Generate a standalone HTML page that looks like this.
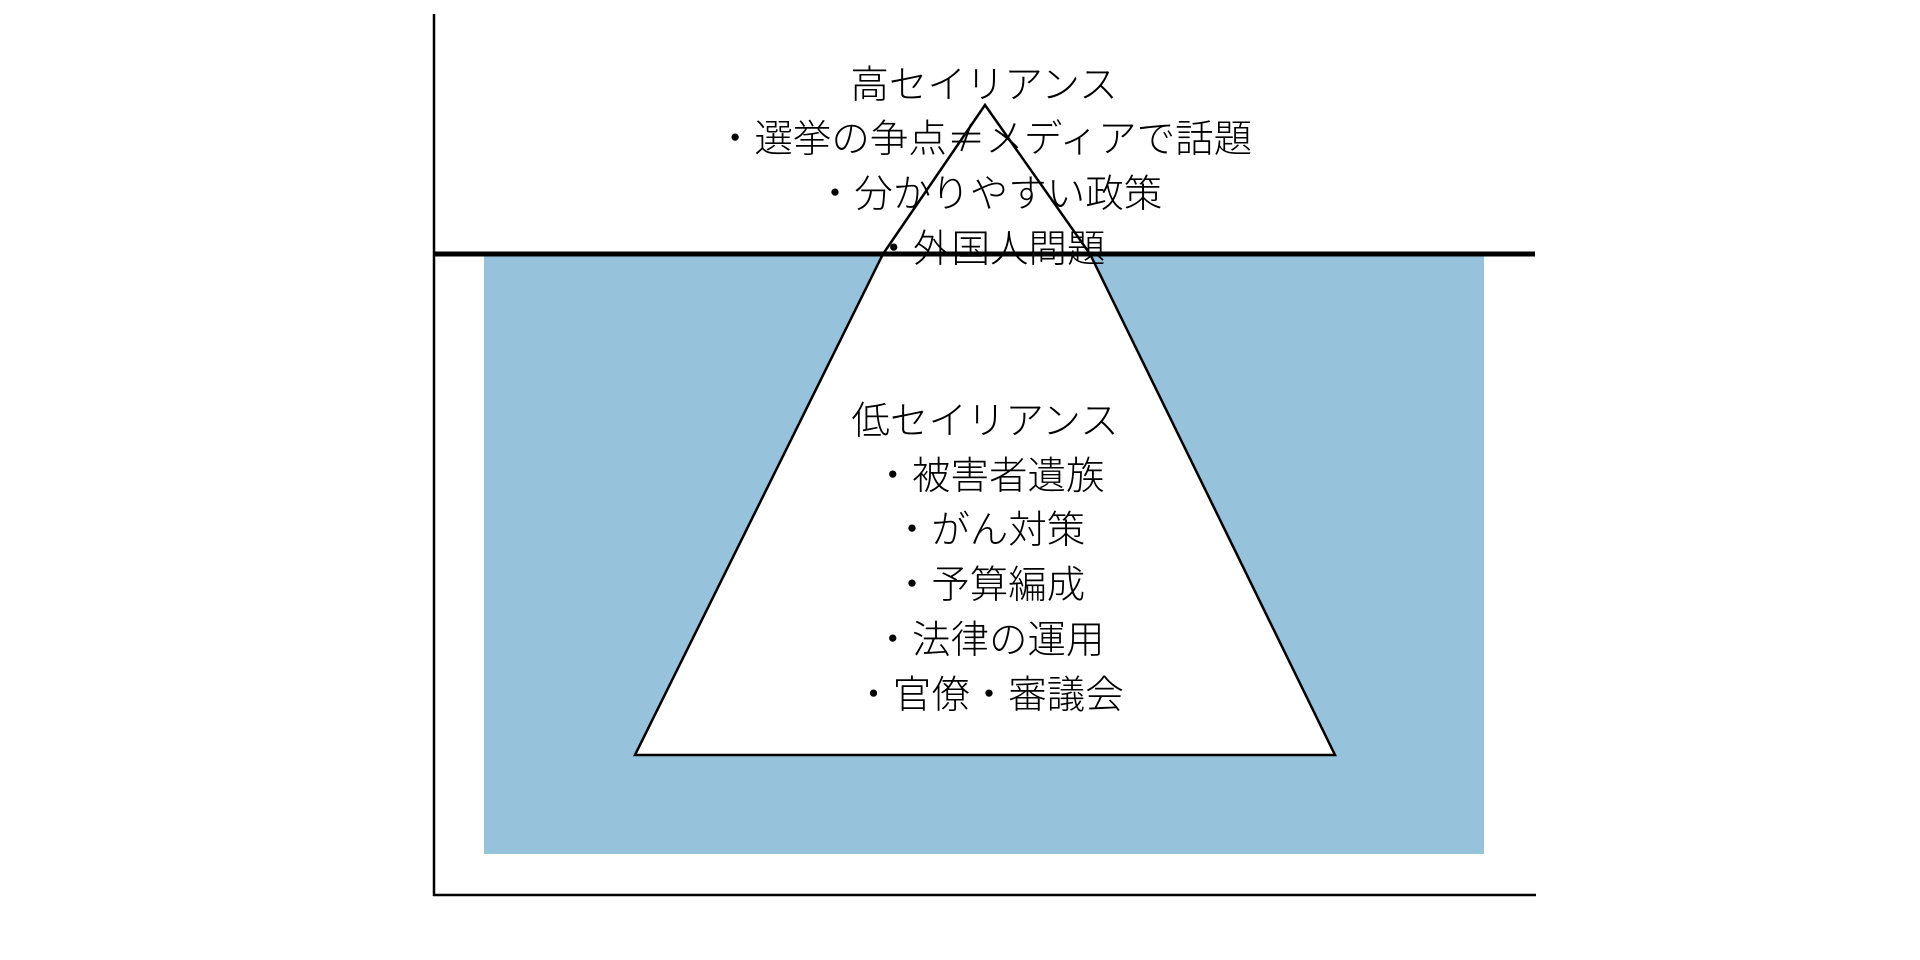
<!DOCTYPE html>
<html><head><meta charset="utf-8"><style>
html,body{margin:0;padding:0;background:#fff;width:1920px;height:960px;overflow:hidden}
text{font-family:"Noto Sans CJK JP","Liberation Sans",sans-serif;font-size:38.5px;font-weight:300;fill:#000}
</style></head><body>
<svg width="1920" height="960" viewBox="0 0 1920 960" xmlns="http://www.w3.org/2000/svg">
<rect x="484" y="255" width="1000" height="599" fill="#96c2dc"/>
<polygon points="985,105 1090,254 1335,755 635,755 883,254" fill="#fff"/>
<g text-anchor="middle" dominant-baseline="central">
<text x="984" y="82">高セイリアンス</text>
<text x="984" y="136">・選挙の争点≠メディアで話題</text>
<text x="989" y="191">・分かりやすい政策</text>
<text x="990" y="246">・外国人問題</text>
<text x="985" y="418">低セイリアンス</text>
<text x="989" y="473">・被害者遺族</text>
<text x="989" y="527">・がん対策</text>
<text x="989" y="582">・予算編成</text>
<text x="989" y="637">・法律の運用</text>
<text x="989" y="692">・官僚・審議会</text>
</g>
<polygon points="985,105 1090,254 1335,755 635,755 883,254" fill="none" stroke="#000" stroke-width="2.5"/>
<line x1="434" y1="14" x2="434" y2="896" stroke="#000" stroke-width="2.5"/>
<line x1="433" y1="895" x2="1536" y2="895" stroke="#000" stroke-width="2.5"/>
<line x1="433" y1="254" x2="1535" y2="254" stroke="#000" stroke-width="5"/>
</svg>
</body></html>
